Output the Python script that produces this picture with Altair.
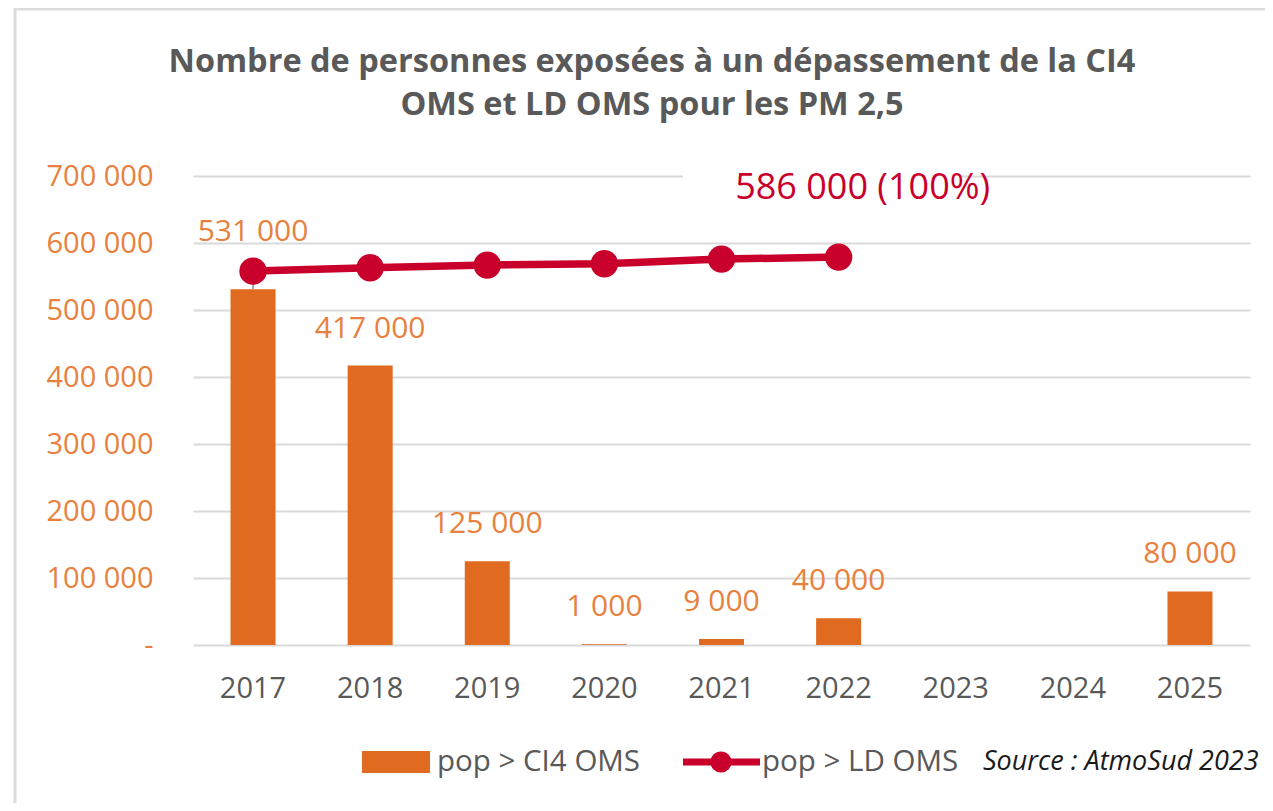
import altair as alt
import pandas as pd

years = ["2017", "2018", "2019", "2020", "2021", "2022", "2023", "2024", "2025"]
pop_ci4 = [531000, 417000, 125000, 1000, 9000, 40000, None, None, 80000]
pop_ld = [558000, 563000, 567000, 569000, 576000, 579000, None, None, None]
title_lines = ["Nombre de personnes exposées à un dépassement de la CI4",
               "OMS et LD OMS pour les PM 2,5"]
annotation_text = "586 000 (100%)"
annotation_year = "2022"
annotation_value = 700000
legend_labels = ["pop > CI4 OMS", "pop > LD OMS"]
source_text = "Source : AtmoSud 2023"

BAR = "#E06A1F"
LBL = "#E8813D"
RED = "#C8002B"
GRAY = "#595959"
FONT = "Open Sans"

df = pd.DataFrame({"year": years, "ci4": pop_ci4, "ld": pop_ld})
one = pd.DataFrame({"a": [0]})

xs = alt.Scale(domain=years, paddingInner=0.615, paddingOuter=0.32)
ys = alt.Scale(domain=[0, 700000], nice=False)
X = alt.X("year:N", scale=xs, sort=years, title=None)

base = alt.Chart(df)

frame = alt.Chart(one).mark_rect(fill="white", fillOpacity=0, stroke="#DCDCDC", strokeWidth=3).encode(
    x=alt.value(-178), x2=alt.value(1120), y=alt.value(-167), y2=alt.value(700))

bars = base.mark_bar(color=BAR, size=45).encode(
    x=X, y=alt.Y("ci4:Q", scale=ys, title=None,
                 axis=alt.Axis(values=list(range(0, 700001, 100000)),
                               labelExpr="datum.value == 0 ? '-' : format(datum.value/1000, 'd') + ' 000'")))

leader = base.transform_filter("datum.year == '2017'").transform_calculate(
    top="datum.ci4 + 42000").mark_rule(color="#A6A6A6", strokeWidth=2).encode(
    x=X, y=alt.Y("ci4:Q", scale=ys), y2="top:Q")

line = base.transform_filter("isValid(datum.ld)").mark_line(color=RED, strokeWidth=7.5).encode(
    x=X, y=alt.Y("ld:Q", scale=ys))
pts = base.transform_filter("isValid(datum.ld)").mark_circle(color=RED, size=750, opacity=1).encode(
    x=X, y=alt.Y("ld:Q", scale=ys))

lab_common = dict(font=FONT, fontSize=30, color=LBL, baseline="middle", align="center")
bar_labels = base.transform_filter("isValid(datum.ci4) && datum.year != '2017'").transform_calculate(
    lab="format(datum.ci4/1000, 'd') + ' 000'").mark_text(dy=-37, **lab_common).encode(
    x=X, y=alt.Y("ci4:Q", scale=ys), text="lab:N")
bar_label17 = base.transform_filter("datum.year == '2017'").transform_calculate(
    lab="format(datum.ci4/1000, 'd') + ' 000'").mark_text(dy=-57, **lab_common).encode(
    x=X, y=alt.Y("ci4:Q", scale=ys), text="lab:N")

ann_df = pd.DataFrame({"year": [annotation_year], "v": [annotation_value], "t": [annotation_text]})
gap = alt.Chart(one).mark_rect(color="white").encode(
    x=alt.value(490), x2=alt.value(767), y=alt.value(-4), y2=alt.value(4))
ann = alt.Chart(ann_df).mark_text(font=FONT, fontSize=36, color=RED, align="center",
                                  baseline="middle", dx=24, dy=12).encode(
    x=X, y=alt.Y("v:Q", scale=ys), text="t:N")

title1 = alt.Chart(one).mark_text(font=FONT, fontSize=32.5, fontWeight="bold", color=GRAY,
                                  align="center", baseline="middle").encode(
    x=alt.value(459), y=alt.value(-114), text=alt.value(title_lines[0]))
title2 = alt.Chart(one).mark_text(font=FONT, fontSize=32.5, fontWeight="bold", color=GRAY,
                                  align="center", baseline="middle").encode(
    x=alt.value(459), y=alt.value(-71), text=alt.value(title_lines[1]))

leg_rect = alt.Chart(one).mark_rect(color=BAR).encode(
    x=alt.value(169), x2=alt.value(237), y=alt.value(575), y2=alt.value(597))
leg_t1 = alt.Chart(one).mark_text(font=FONT, fontSize=29.5, color=GRAY, align="left", baseline="middle").encode(
    x=alt.value(244), y=alt.value(586), text=alt.value(legend_labels[0]))
leg_line = alt.Chart(one).mark_rule(color=RED, strokeWidth=7).encode(
    x=alt.value(490), x2=alt.value(567), y=alt.value(586))
leg_pt = alt.Chart(one).mark_circle(color=RED, size=450, opacity=1).encode(
    x=alt.value(528), y=alt.value(586))
leg_t2 = alt.Chart(one).mark_text(font=FONT, fontSize=29.5, color=GRAY, align="left", baseline="middle").encode(
    x=alt.value(569), y=alt.value(586), text=alt.value(legend_labels[1]))
src = alt.Chart(one).mark_text(font=FONT, fontSize=27, fontStyle="italic", color="#1A1A1A",
                               align="left", baseline="middle").encode(
    x=alt.value(790), y=alt.value(586), text=alt.value(source_text))

chart = alt.layer(
    frame, bars, leader, line, pts, bar_labels, bar_label17, gap, ann,
    title1, title2, leg_rect, leg_t1, leg_line, leg_pt, leg_t2, src
).properties(
    width=1057, height=469,
    autosize=alt.AutoSizeParams(type="none"),
    padding={"left": 185, "top": 168, "right": 15, "bottom": 158},
).configure_view(stroke=None).configure_axisY(
    labelFont=FONT, labelFontSize=29, labelColor=LBL, labelPadding=40,
    ticks=False, domain=False, grid=True, gridColor="#D9D9D9", gridWidth=2
).configure_axisX(
    labelFont=FONT, labelFontSize=29, labelColor=GRAY, labelPadding=43, labelBaseline="middle",
    labelAngle=0, ticks=False, domain=False, grid=False
)

chart.save("out.html", embed_options={"renderer": "svg", "actions": False})
